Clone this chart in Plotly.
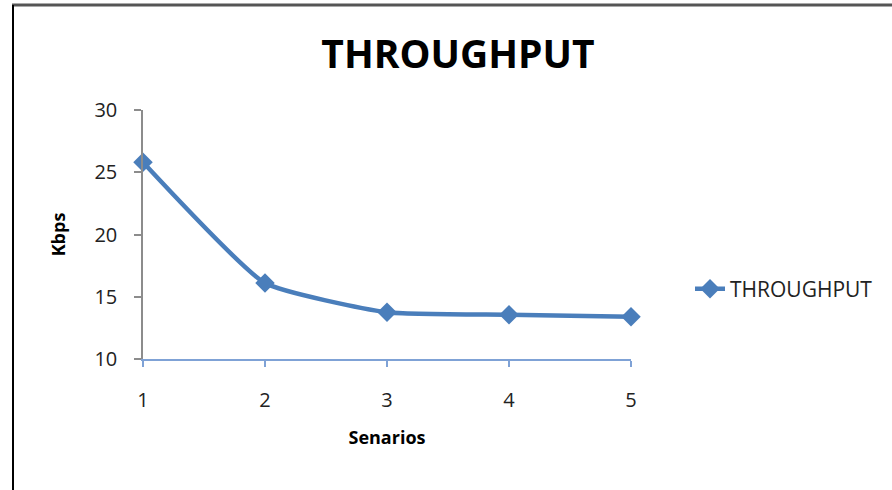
import plotly.graph_objects as go

scenarios = [1, 2, 3, 4, 5]
throughput = [25.8, 16.1, 13.75, 13.55, 13.4]
y_ticks = [10, 15, 20, 25, 30]

BLUE = "#4A7EBB"
FONT = "Open Sans"

fig = go.Figure()
fig.add_trace(go.Scatter(
    x=scenarios, y=throughput, name="THROUGHPUT",
    mode="lines+markers",
    line=dict(color=BLUE, width=4.5, shape="spline", smoothing=0.45),
    marker=dict(symbol="diamond", size=15, color=BLUE),
    cliponaxis=False,
))

fig.update_layout(
    width=892, height=490,
    margin=dict(l=143, r=261, t=110, b=131),
    paper_bgcolor="white", plot_bgcolor="white",
    title=dict(text="<b>THROUGHPUT</b>", x=458 / 892, xanchor="center",
               y=1 - 54 / 490, yanchor="middle",
               font=dict(family=FONT, size=39, color="black")),
    showlegend=True,
    legend=dict(x=(690 - 143) / 488, y=(359 - 289) / 249, xanchor="left", yanchor="middle",
                font=dict(family=FONT, size=21, color="#222"), bgcolor="rgba(0,0,0,0)"),
    xaxis=dict(range=[1, 5], tickvals=scenarios, ticktext=[str(s) for s in scenarios],
               showgrid=False, zeroline=False, showline=True, linecolor="#7FA2D6", linewidth=1.5,
               ticks="outside", ticklen=6, tickcolor="#7FA2D6", tickwidth=1.5,
               ticklabelstandoff=16,
               tickfont=dict(family=FONT, size=20, color="#222"),
               title=dict(text="<b>Senarios</b>", standoff=20,
                          font=dict(family=FONT, size=18, color="black"))),
    yaxis=dict(range=[10, 30], tickvals=y_ticks,
               showgrid=False, zeroline=False, showline=True, linecolor="#8C8C8C", linewidth=1.5,
               ticks="outside", ticklen=7, tickcolor="#8C8C8C", tickwidth=1.5,
               ticklabelstandoff=13,
               tickfont=dict(family=FONT, size=20, color="#222"),
               title=dict(text="<b>Kbps</b>", standoff=24,
                          font=dict(family=FONT, size=18, color="black"))),
)

# chart frame (top and left border)
fig.add_shape(type="line", xref="paper", yref="paper",
              x0=(12 - 143) / 488, x1=(892 - 143) / 488,
              y0=(359 - 5) / 249, y1=(359 - 5) / 249,
              line=dict(color="#555555", width=3))
fig.add_shape(type="line", xref="paper", yref="paper",
              x0=(13 - 143) / 488, x1=(13 - 143) / 488,
              y0=(359 - 5) / 249, y1=(359 - 492) / 249,
              line=dict(color="black", width=2))

fig.write_html("out.html", config={"displayModeBar": False},
               post_script="document.body.style.margin='0';document.body.style.padding='0';")
